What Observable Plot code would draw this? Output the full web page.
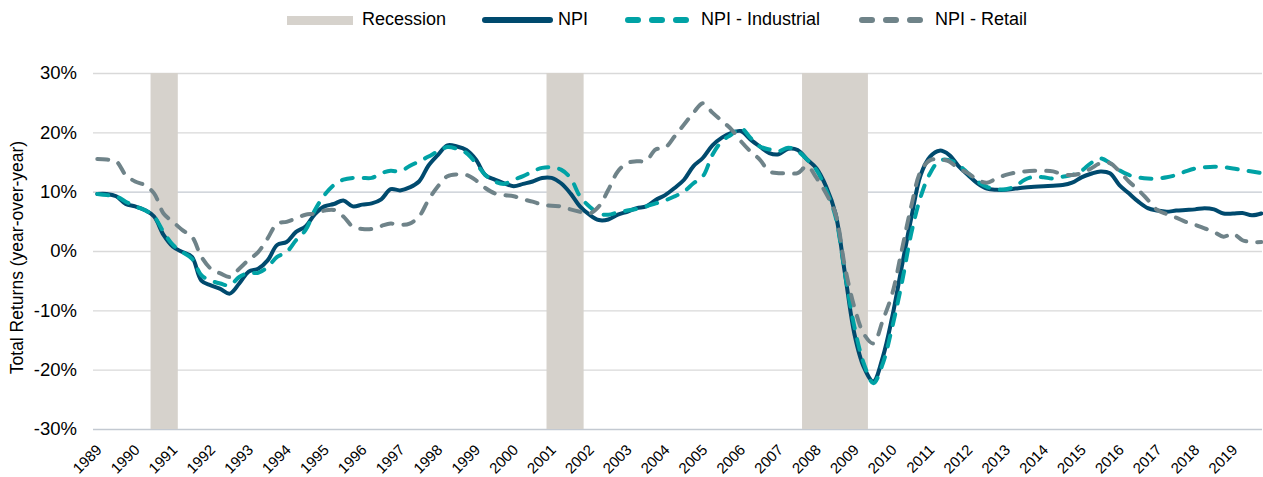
<!DOCTYPE html>
<html>
<head>
<meta charset="utf-8">
<script src="https://cdn.jsdelivr.net/npm/d3@7"></script>
<script src="https://cdn.jsdelivr.net/npm/@observablehq/plot@0.6"></script>
<style>
  html, body { margin: 0; padding: 0; background: #fff; }
  body { width: 1263px; font-family: "Liberation Sans", Arial, sans-serif; }
  #legend { position: relative; height: 38px; width: 1263px; font-size: 18px; color: #000; }
  #legend .item { position: absolute; top: 0; height: 38px; display: flex; align-items: center; }
  #legend svg { display: block; }
  #legend span { position: absolute; top: 9px; white-space: nowrap; line-height: 20px; }
</style>
</head>
<body>
<div id="legend"></div>
<div id="chart"></div>
<script>
// ---- data ----
const startYear = 1989;            // first quarter of the series (quarterly data)
const yearLabels = [1989,1990,1991,1992,1993,1994,1995,1996,1997,1998,1999,2000,2001,2002,2003,2004,2005,2006,2007,2008,2009,2010,2011,2012,2013,2014,2015,2016,2017,2018,2019];
const yTicks = [-30,-20,-10,0,10,20,30];

const npi = [
  9.7, 9.7, 9.3, 8.0,    7.6, 7.0, 5.9, 2.8,    0.8, -0.1, -0.9, -4.9,   -5.7, -6.3, -7.1, -5.4,
  -3.4, -2.9, -1.5, 1.1,  1.6, 3.3, 4.2, 6.3,    7.6, 8.0, 8.6, 7.6,      7.9, 8.1, 8.8, 10.5,
  10.3, 10.8, 11.8, 14.5, 16.3, 17.9, 17.7, 17.1, 15.5, 12.9, 12.1, 11.5,  11.0, 11.4, 11.8, 12.4,
  12.4, 11.5, 9.8, 7.6,   6.2, 5.3, 5.4, 6.2,    6.7, 7.3, 7.6, 8.7,      9.5, 10.7, 12.1, 14.4,
  15.8, 17.9, 19.2, 20.0, 20.3, 18.9, 17.7, 16.6, 16.4, 17.3, 17.1, 15.5,  14.0, 11.0, 6.4, -3.7,
  -13.9, -19.5, -21.9, -17.8, -11.0, -2.6, 5.6, 12.9, 16.0, 17.0, 16.3, 14.4, 12.9, 11.5, 10.6, 10.4,
  10.4, 10.6, 10.8, 10.9, 11.0, 11.1, 11.2, 11.6, 12.5, 13.1, 13.5, 13.2,  11.2, 9.8, 8.4, 7.3,
  6.9, 6.7, 6.9, 7.0,     7.1, 7.3, 7.1, 6.4,    6.4, 6.5, 6.1, 6.4
];
const industrial = [
  9.7, 9.5, 9.3, 8.4,    7.6, 7.0, 5.9, 3.3,    1.1, -0.1, -1.2, -4.0,   -4.9, -5.4, -5.7, -4.3,
  -3.6, -3.6, -2.6, -0.9, -0.1, 1.9, 3.6, 7.0,   9.5, 11.2, 12.1, 12.4,   12.4, 12.4, 13.2, 13.6,
  13.5, 14.4, 15.2, 16.0, 16.9, 17.6, 17.3, 16.6, 14.9, 12.9, 11.8, 11.4,  12.1, 12.7, 13.5, 14.1,
  14.2, 13.8, 12.4, 9.3,  7.6, 6.4, 6.2, 6.6,    6.9, 7.2, 7.6, 8.1,      8.6, 9.3, 10.1, 11.5,
  12.7, 16.3, 18.6, 19.7, 20.8, 19.2, 17.7, 17.2, 16.9, 17.5, 16.9, 15.5,  13.7, 10.4, 5.9, -3.7,
  -12.7, -18.9, -22.2, -18.9, -12.7, -5.4, 3.0, 9.2, 13.2, 15.3, 15.4, 14.6, 13.2, 11.8, 10.9, 10.5,
  10.5, 11.0, 12.1, 12.6, 12.5, 12.3, 12.6, 12.9, 13.6, 14.9, 15.7, 14.9,  13.7, 12.9, 12.5, 12.3,
  12.3, 12.5, 12.9, 13.5, 14.0, 14.2, 14.3, 14.2, 14.0, 13.7, 13.5, 13.2
];
const retail = [
  15.6, 15.5, 15.2, 12.9, 11.8, 11.2, 9.8, 6.4,  5.0, 3.6, 2.5, -0.9,     -2.9, -3.7, -4.3, -2.9,
  -1.4, -0.1, 2.2, 4.7,   5.0, 5.6, 6.2, 6.4,    6.9, 7.0, 5.9, 4.2,      3.8, 3.8, 4.3, 4.7,
  4.5, 4.7, 5.9, 8.7,     11.0, 12.7, 13.0, 12.9, 12.0, 10.7, 9.8, 9.5,   9.3, 8.8, 8.4, 7.9,
  7.7, 7.6, 7.1, 6.7,     6.4, 7.6, 10.4, 13.5,  14.9, 15.2, 15.3, 17.2,  17.5, 19.4, 21.4, 23.4,
  25.0, 23.4, 22.0, 20.6, 18.6, 16.9, 15.5, 13.5, 13.2, 13.2, 13.2, 14.4,  12.4, 9.8, 6.4, -2.6,
  -9.4, -13.9, -15.5, -11.6, -7.1, 0.2, 7.6, 13.5, 15.4, 15.5, 15.2, 14.0, 13.2, 12.1, 11.6, 12.3,
  12.9, 13.3, 13.5, 13.6, 13.6, 13.5, 13.0, 12.9, 13.2, 14.0, 14.9, 14.9,  13.5, 11.8, 10.4, 8.7,
  7.0, 6.3, 5.7, 5.0,     4.5, 3.9, 3.3, 2.5,    3.0, 1.9, 1.6, 1.6
];
const recessionStart = [1990.42, 2000.88, 2007.63];
const recessionEnd   = [1991.14, 2001.86, 2009.37];

const seriesNames = ["NPI", "NPI - Industrial", "NPI - Retail"];
const colors = { "NPI": "#004a6e", "NPI - Industrial": "#00a2a5", "NPI - Retail": "#6f8389", "Recession": "#d6d2cc" };

// ---- tables ----
const toRows = (arr, name) => arr.map((v, i) => ({ t: startYear + i / 4, v, name }));
const npiRows = toRows(npi, seriesNames[0]);
const indRows = toRows(industrial, seriesNames[1]);
const retRows = toRows(retail, seriesNames[2]);
const recessions = recessionStart.map((s, i) => ({ start: s, end: recessionEnd[i] }));

// ---- legend ----
const legend = document.getElementById("legend");
function addItem(left, textLeft, w, kind, color, label) {
  const item = document.createElement("div");
  item.className = "item";
  item.style.left = left + "px";
  let svg;
  if (kind === "rect") {
    svg = `<svg width="${w}" height="38"><rect x="0" y="16" width="${w}" height="9" fill="${color}"/></svg>`;
  } else {
    const dash = kind === "dash" ? `stroke-dasharray="10 14"` : "";
    svg = `<svg width="${w}" height="38"><line x1="3" x2="${w-3}" y1="20" y2="20" stroke="${color}" stroke-width="6" stroke-linecap="round" ${dash}/></svg>`;
  }
  item.innerHTML = svg;
  legend.appendChild(item);
  const span = document.createElement("span");
  span.textContent = label;
  span.style.left = textLeft + "px";
  legend.appendChild(span);
}
addItem(287, 362, 66, "rect", colors["Recession"], "Recession");
addItem(482, 558, 71, "line", colors["NPI"], "NPI");
addItem(625, 701, 66, "dash", colors["NPI - Industrial"], "NPI - Industrial");
addItem(859, 935, 66, "dash", colors["NPI - Retail"], "NPI - Retail");

// ---- chart ----
const chart = Plot.plot({
  width: 1263,
  height: 439,
  marginLeft: 93,
  marginRight: 1,
  marginTop: 35,
  marginBottom: 48,
  style: { fontFamily: "'Liberation Sans', Arial, sans-serif", fontSize: "17px", color: "#000", background: "#fff", overflow: "visible" },
  x: { domain: [1988.9, 2019.78], axis: null },
  y: { domain: [-30, 30] },
  marks: [
    Plot.ruleY(yTicks.filter(d => d !== 10 && d !== -30), { stroke: "#d9d9d9", strokeWidth: 1.3 }),
    Plot.ruleY(yTicks.filter(d => d === 10 || d === -30), { stroke: "#c3c9d1", strokeWidth: 1.3 }),
    Plot.rect(recessions, { x1: "start", x2: "end", y1: -30, y2: 30, fill: colors["Recession"] }),
    Plot.line(npiRows, { x: "t", y: "v", stroke: colors["NPI"], strokeWidth: 4, curve: "catmull-rom" }),
    Plot.line(indRows, { x: "t", y: "v", stroke: colors["NPI - Industrial"], strokeWidth: 4, curve: "catmull-rom", strokeDasharray: "11 11", strokeLinecap: "round" }),
    Plot.line(retRows, { x: "t", y: "v", stroke: colors["NPI - Retail"], strokeWidth: 4, curve: "catmull-rom", strokeDasharray: "11 11", strokeLinecap: "round" }),
    // rotated year labels along the bottom
    Plot.text(yearLabels, { x: d => d, frameAnchor: "bottom", text: d => String(d), rotate: -45, textAnchor: "end", lineAnchor: "middle", dx: 2, dy: 18, fontSize: 15, fill: "#000" }),
    Plot.axisY({ ticks: yTicks, tickFormat: d => d + "%", tickSize: 0, tickPadding: 16.5, fontSize: 18.5, label: null }),
    Plot.text(["Total Returns (year-over-year)"], { frameAnchor: "left", text: d => d, rotate: -90, textAnchor: "middle", lineAnchor: "middle", dx: -76, dy: 6, fontSize: 17.5, fill: "#000" })
  ]
});
document.getElementById("chart").appendChild(chart);
</script>
</body>
</html>
